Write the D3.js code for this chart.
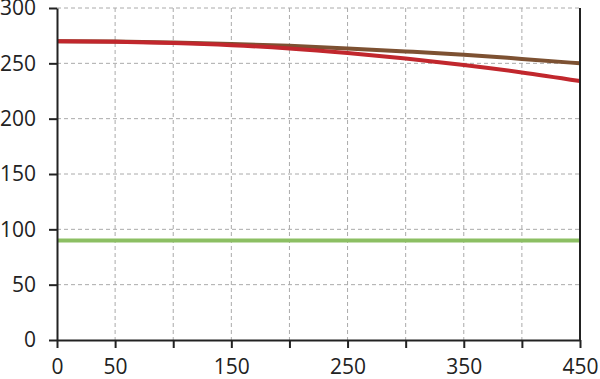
<!DOCTYPE html>
<html>
<head>
<meta charset="utf-8">
<script src="https://cdn.jsdelivr.net/npm/d3@7"></script>
<style>
  body { margin: 0; background: #fff; }
  svg { display: block; }
  .tick text { font-family: "Open Sans", "Noto Sans", sans-serif; font-size: 21px; fill: #222; }
</style>
</head>
<body>
<div id="chart"></div>
<script>
// values
const x_values = [0, 50, 100, 150, 200, 250, 300, 350, 400, 450];
const red_values = [270, 269.6, 268.4, 266.4, 263.4, 259.3, 254.3, 248.5, 241.8, 234];
const brown_values = [270, 269.7, 268.8, 267.5, 265.8, 263.5, 260.8, 257.8, 254, 250];
const green_values = [90, 90, 90, 90, 90, 90, 90, 90, 90, 90];
const x_ticks = [0, 50, 100, 150, 200, 250, 300, 350, 400, 450];
const x_labels = [0, 50, 150, 250, 350, 450];
const y_ticks = [0, 50, 100, 150, 200, 250, 300];

const margin = {top: 8, right: 20, bottom: 39, left: 57},
    width = 600 - margin.left - margin.right,
    height = 379 - margin.top - margin.bottom;

const svg = d3.select("#chart")
    .append("svg")
    .attr("width", 600)
    .attr("height", 379)
    .append("g")
    .attr("transform", "translate(" + margin.left + "," + margin.top + ")");

const x = d3.scaleLinear().domain([0, 450]).range([0, width]);
const y = d3.scaleLinear().domain([0, 300]).range([height, 0]);

// dashed grid
svg.append("g")
    .selectAll("line")
    .data(y_ticks.filter(d => d > 0))
    .join("line")
    .attr("x1", 0).attr("x2", width)
    .attr("y1", d => y(d)).attr("y2", d => y(d))
    .attr("stroke", "#aaa").attr("stroke-width", 1).attr("stroke-dasharray", "4,3");

svg.append("g")
    .selectAll("line")
    .data(x_ticks.filter(d => d > 0 && d < 450))
    .join("line")
    .attr("x1", d => x(d)).attr("x2", d => x(d))
    .attr("y1", 0).attr("y2", height)
    .attr("stroke", "#aaa").attr("stroke-width", 1).attr("stroke-dasharray", "4,3");

// lines
const series = [
    {values: green_values, color: "#8cbf63"},
    {values: brown_values, color: "#7d5132"},
    {values: red_values, color: "#c1272d"}
];

const line = d3.line()
    .x((d, i) => x(x_values[i]))
    .y(d => y(d))
    .curve(d3.curveMonotoneX);

svg.selectAll(".series")
    .data(series)
    .join("path")
    .attr("class", "series")
    .attr("d", d => line(d.values))
    .attr("fill", "none")
    .attr("stroke", d => d.color)
    .attr("stroke-width", 4);

// axes
const y_axis = svg.append("g")
    .call(d3.axisLeft(y).tickValues(y_ticks).tickSize(8).tickPadding(13).tickSizeOuter(0));

const x_axis = svg.append("g")
    .attr("transform", "translate(0," + height + ")")
    .call(d3.axisBottom(x).tickValues(x_ticks).tickSize(8).tickPadding(11).tickSizeOuter(0)
        .tickFormat(d => x_labels.includes(d) ? d : ""));

// right border line
svg.append("line")
    .attr("x1", width).attr("x2", width)
    .attr("y1", 0).attr("y2", height)
    .attr("stroke", "#222").attr("stroke-width", 2);

[y_axis, x_axis].forEach(a => {
    a.select(".domain").attr("stroke", "#222").attr("stroke-width", 2);
    a.selectAll(".tick line").attr("stroke", "#222").attr("stroke-width", 2);
});
</script>
</body>
</html>
